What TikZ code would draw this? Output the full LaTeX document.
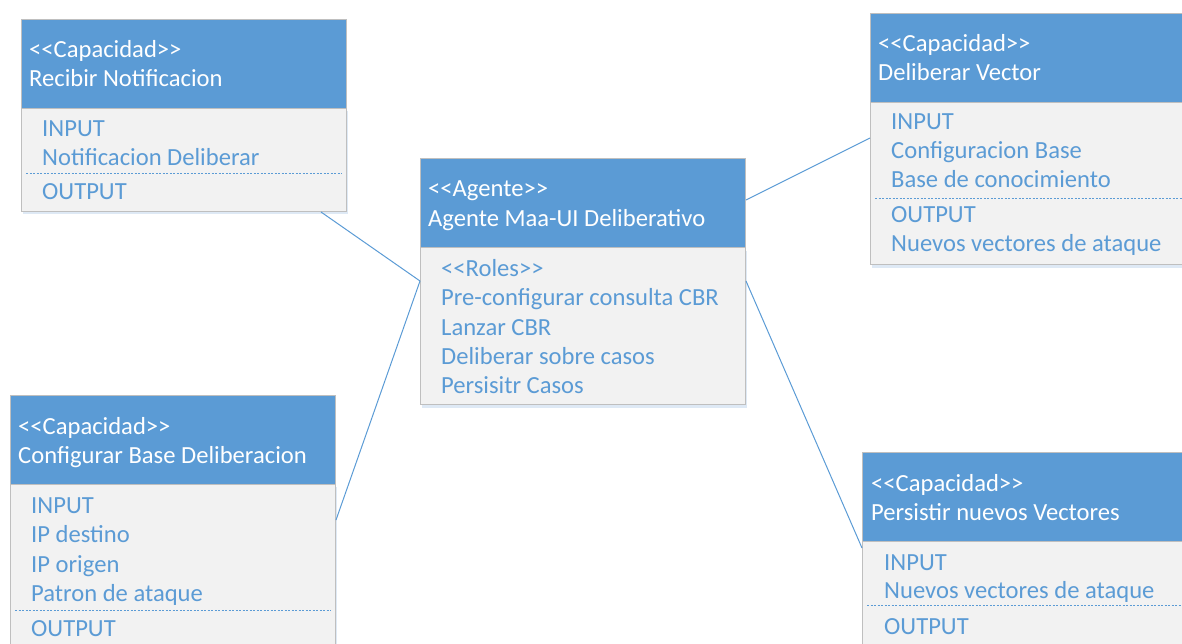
\documentclass[tikz,border=0pt]{standalone}
\usepackage{fontspec}
\setmainfont{Carlito}
\usetikzlibrary{calc,shadows}
\definecolor{hdrblue}{HTML}{5B9BD5}
\definecolor{bodygray}{HTML}{F2F2F2}
\definecolor{edgegray}{HTML}{BFBFBF}
\definecolor{glow}{HTML}{D6E4F3}
\newcommand{\stereo}[1]{<{}<#1>{}>}
\tikzset{
  hdr/.style={rectangle, draw=edgegray, line width=1pt, fill=hdrblue, anchor=north west,
    minimum width=325pt, minimum height=89pt, inner sep=0pt},
  bodybox/.style={rectangle, draw=edgegray, line width=1pt, fill=bodygray, anchor=north west,
    minimum width=325pt, inner sep=0pt,
    drop shadow={shadow xshift=1pt, shadow yshift=-3pt, fill=glow, opacity=0.8}},
  htext/.style={anchor=base west, inner sep=0pt, text=white, font=\fontsize{24.6}{29.5}\selectfont},
  btext/.style={anchor=base west, inner sep=0pt, text=hdrblue, font=\fontsize{24.6}{29.5}\selectfont},
  sep/.style={draw=hdrblue, line width=1pt, dash pattern=on 2pt off 1.5pt},
  link/.style={draw=hdrblue, line width=1pt}
}
\begin{document}
\begin{tikzpicture}[x=1pt, y=-1pt]
\useasboundingbox (0,0) rectangle (1182,644);
\clip (0,0) rectangle (1182,644);

% Recibir Notificacion
\node[bodybox, minimum height=103pt] (b1) at (21,108) {};
\node[hdr] (h1) at (21,19) {};
\node[htext] (h1a) at (29,58) {\stereo{Capacidad}};
\node[htext] (h1b) at (29,87) {Recibir Notificacion};
\node[btext] (b1a) at (42,137) {INPUT};
\node[btext] (b1b) at (42,166) {Notificacion Deliberar};
\draw[sep] ($(b1.north west)+(5,66)$) -- ($(b1.north east)+(-5,66)$);
\node[btext] (b1c) at (42,200) {OUTPUT};

% Agente Maa-UI Deliberativo
\node[bodybox, minimum height=157pt] (b2) at (420,247) {};
\node[hdr] (h2) at (420,158) {};
\node[htext] (h2a) at (428,197) {\stereo{Agente}};
\node[htext] (h2b) at (428,226) {Agente Maa-UI Deliberativo};
\node[btext] (b2a) at (441,276) {\stereo{Roles}};
\node[btext] (b2b) at (441,305.5) {Pre-configurar consulta CBR};
\node[btext] (b2c) at (441,335) {Lanzar CBR};
\node[btext] (b2d) at (441,364) {Deliberar sobre casos};
\node[btext] (b2e) at (441,393) {Persisitr Casos};

% Deliberar Vector
\node[bodybox, minimum height=164pt] (b3) at (870,100) {};
\node[hdr] (h3) at (870,13) {};
\node[htext] (h3a) at (878,52) {\stereo{Capacidad}};
\node[htext] (h3b) at (878,81) {Deliberar Vector};
\node[btext] (b3a) at (891,130) {INPUT};
\node[btext] (b3b) at (891,159) {Configuracion Base};
\node[btext] (b3c) at (891,188) {Base de conocimiento};
\draw[sep] ($(b3.north west)+(5,99)$) -- ($(b3.north east)+(-5,99)$);
\node[btext] (b3d) at (891,223) {OUTPUT};
\node[btext] (b3e) at (891,251.5) {Nuevos vectores de ataque};

% Configurar Base Deliberacion
\node[bodybox, minimum height=180pt] (b4) at (10,483) {};
\node[hdr] (h4) at (10,395) {};
\node[htext] (h4a) at (18,434) {\stereo{Capacidad}};
\node[htext] (h4b) at (18,463) {Configurar Base Deliberacion};
\node[btext] (b4a) at (31,513) {INPUT};
\node[btext] (b4b) at (31,542.5) {IP destino};
\node[btext] (b4c) at (31,572) {IP origen};
\node[btext] (b4d) at (31,601.5) {Patron de ataque};
\draw[sep] ($(b4.north west)+(5,127)$) -- ($(b4.north east)+(-5,127)$);
\node[btext] (b4e) at (31,636) {OUTPUT};

% Persistir nuevos Vectores
\node[bodybox, minimum height=120pt] (b5) at (862,541) {};
\node[hdr] (h5) at (862,452) {};
\node[htext] (h5a) at (871,491) {\stereo{Capacidad}};
\node[htext] (h5b) at (871,520) {Persistir nuevos Vectores};
\node[btext] (b5a) at (884,570) {INPUT};
\node[btext] (b5b) at (884,598) {Nuevos vectores de ataque};
\draw[sep] ($(b5.north west)+(5,64)$) -- ($(b5.north east)+(-5,64)$);
\node[btext] (b5c) at (884,634) {OUTPUT};

% Associations from the agent to its capabilities
\draw[link] ($(b1.south west)+(300,0)$) -- ($(b2.north west)+(0,34)$);
\draw[link] ($(b2.north west)+(0,34)$) -- ($(b4.north east)+(0,37)$);
\draw[link] ($(h2.north east)+(0,42)$) -- ($(b3.north west)+(0,38)$);
\draw[link] ($(b2.north east)+(0,34)$) -- ($(b5.north west)+(0,7)$);
\end{tikzpicture}
\end{document}
